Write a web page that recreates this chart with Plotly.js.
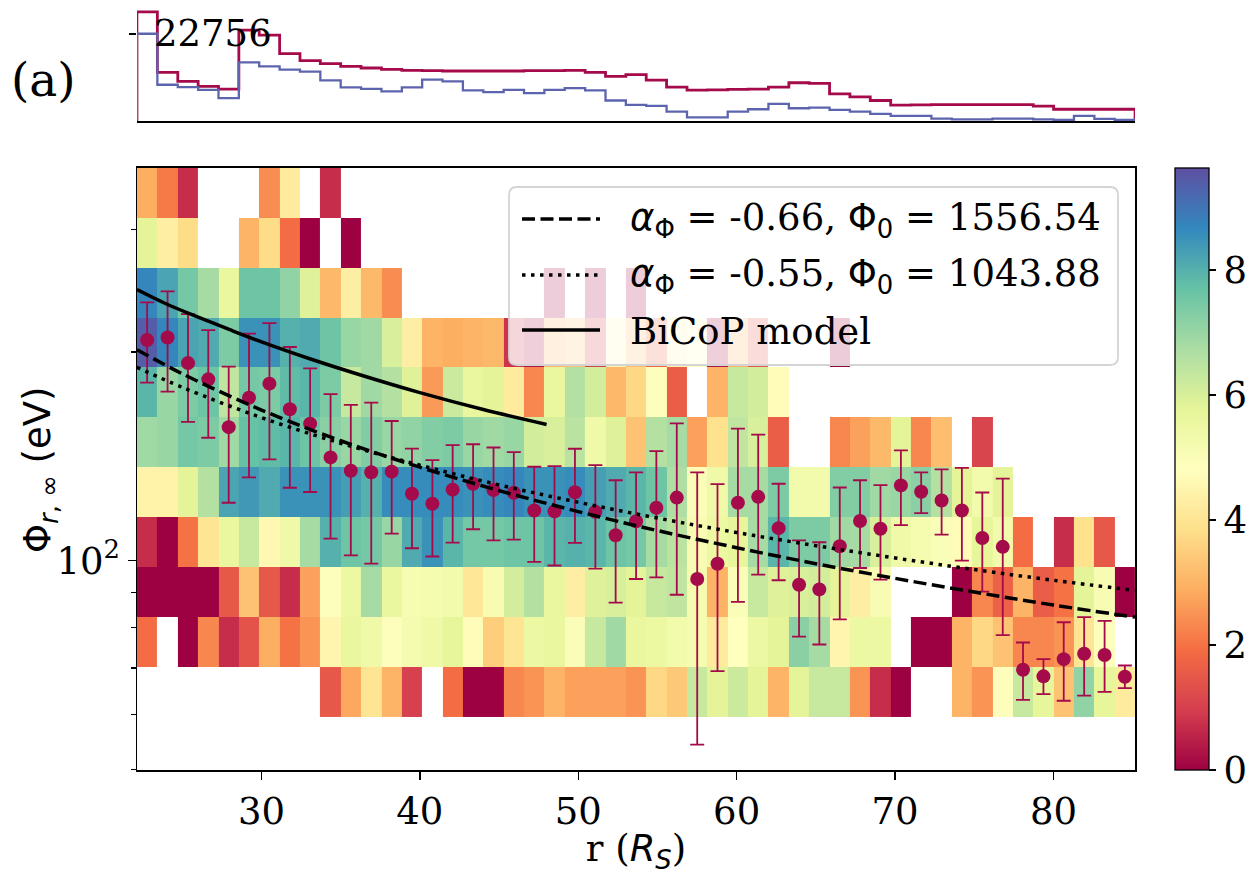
<!DOCTYPE html>
<html><head><meta charset="utf-8">
<script src="https://cdn.plot.ly/plotly-3.0.1.min.js"></script>
<style>body{margin:0;background:#fff}#chart{width:1255px;height:875px}</style>
</head><body><div id="chart"></div>
<script>
const _ = null;
// radial bin centres (R_S)
const rCenters = [22.78,24.07,25.36,26.64,27.93,29.21,30.50,31.79,33.07,34.36,
 35.64,36.93,38.22,39.50,40.79,42.07,43.36,44.65,45.93,47.22,
 48.50,49.79,51.08,52.36,53.65,54.93,56.22,57.51,58.79,60.08,
 61.36,62.65,63.94,65.22,66.51,67.79,69.08,70.37,71.65,72.94,
 74.22,75.51,76.80,78.08,79.37,80.65,81.94,83.23,84.51];
// Phi bin edges (eV), bottom to top
const phiEdges = [59.6,70.33,83.0,97.95,115.6,136.4,161.0,190.0,224.2,264.6,312.2,368.4];
// colour values per Phi row (bottom to top), one value per r bin
const zR1  = [_,_,_,_,_,_,_,_,_,1.5, 2.8,4.0,3.0,1.0,_,1.9,0,0,2.3,2.5, 3.0,2.7,2.7,2.7,2.5,3.7,3.4,6.3,5.8,6.2, 5.8,3.0,5.8,6.3,6.3,2.5,0.7,0,_,_, 3.0,2.5,4.9,6.3,5.7,3.3,7.1,5.7,4.2];
const zR2  = [1.9,_,0,2.3,0.7,1.4,2.9,2.0,2.5,4.5, 5.6,5.4,4.9,5.2,5.4,5.7,4.7,3.5,4.0,5.5, 5.6,5.0,6.3,6.9,5.6,5.5,5.3,5.2,4.2,4.8, 5.5,5.8,7.2,6.8,4.5,5.5,5.5,_,0,0, 3.0,3.7,3.3,2.3,2.3,2.5,4.0,4.9,_];
const zR3  = [0,0,0,0,1.5,3.3,1.5,0.7,2.7,4.9, 5.5,6.8,5.6,5.1,5.2,5.3,4.1,5.1,6.1,6.6, 5.6,4.3,5.9,6.0,5.8,6.3,6.4,5.2,3.0,5.0, 6.3,5.9,6.0,6.1,5.8,4.3,5.1,_,_,_, 0,2.3,1.7,3.0,1.6,2.0,5.8,5.1,0];
const zR4  = [0.7,0,2.0,4.0,5.6,6.3,4.6,5.4,6.8,8.0, 7.6,7.5,7.0,8.1,8.5,7.9,7.5,7.5,7.6,7.6, 7.9,8.0,7.9,7.6,7.5,6.8,6.5,5.1,5.5,5.7, 6.8,7.9,7.4,7.4,6.9,6.8,6.0,5.4,5.2,5.0, 4.7,5.7,5.3,1.9,_,0.7,3.9,1.5,_];
const zR5  = [4.4,4.4,5.8,6.6,8.2,8.4,8.1,8.5,8.5,8.5, 8.3,8.0,8.6,8.6,8.6,8.6,8.5,8.6,8.7,8.5, 8.5,8.6,8.3,8.1,7.9,7.6,6.7,5.0,5.4,6.8, 6.8,7.4,5.3,5.3,7.3,7.3,6.9,7.0,7.2,6.6, 5.8,5.3,5.8,_,_,_,_,_,_];
const zR6  = [6.9,7.0,7.5,7.4,6.9,7.7,7.8,7.9,7.6,7.2, 7.0,7.3,7.0,7.1,7.3,7.4,7.0,6.9,7.0,6.1, 6.0,6.5,5.4,5.9,3.3,6.6,6.8,2.7,3.9,6.4, 6.0,1.6,_,_,2.3,2.7,3.1,5.8,2.3,3.2, _,1.1,_,_,_,_,_,_,_];
const zR7  = [7.9,7.0,7.4,7.6,6.4,7.5,7.4,7.8,7.9,7.4, 6.3,6.9,6.6,5.9,2.6,6.2,5.6,5.8,4.2,2.3, 5.6,6.6,6.1,3.1,3.7,4.9,1.6,_,3.0,6.3, 6.1,4.7,_,_,_,_,_,_,_,_, _,_,_,_,_,_,_,_,_];
const zR8  = [9.4,8.7,8.2,8.1,7.4,8.5,8.5,8.0,8.1,7.6, 7.0,6.9,6.0,4.3,3.0,2.9,3.0,3.1,0.8,0.3, 3.0,3.3,1.0,4.6,3.2,1.8,4.5,4.8,0.3,3.0, 1.5,_,_,_,0,_,_,_,_,_, _,_,_,_,_,_,_,_,_];
const zR9  = [8.7,8.2,7.5,6.8,5.6,7.6,7.6,7.1,5.9,3.1, 4.3,3.1,2.4,_,_,_,_,_,_,_, 0.1,_,0.1,_,0.1,_,_,_,_,_, _,_,_,_,_,_,_,_,_,_, _,_,_,_,_,_,_,_,_];
const zR10 = [5.8,4.3,3.8,_,_,3.0,3.8,1.9,0,_, 0,_,_,_,_,_,_,_,_,_, _,_,_,_,_,_,_,_,_,_, _,_,_,_,_,_,_,_,_,_, _,_,_,_,_,_,_,_,_];
const zR11 = [2.9,2.1,0.7,_,_,_,2.4,4.2,_,0.7, _,_,_,_,_,_,_,_,_,_, _,_,_,_,_,_,_,_,_,_, _,_,_,_,_,_,_,_,_,_, _,_,_,_,_,_,_,_,_];
// binned mean Phi with error-bar limits
const phiMean = [208.1,209.8,192.7,182.6,155.8,171.8,180.0,165.3,157.6,140.9,
 134.8,134.1,134.4,124.9,120.8,126.6,129.1,126.4,125.3,118.1,
 117.8,125.5,117.6,108.8,114.0,119.2,123.3,94.1,99.0,121.2,
 123.6,111.4,92.3,90.9,104.9,114.1,111.2,128.4,125.7,122.1,
 118.1,107.8,104.7,69.6,68.1,72.1,73.4,73.1,68.0];
const phiUpper = [235.8,244.5,226.8,215.0,190.5,212.6,220.0,203.3,189.4,173.8,
 167.7,169.0,159.0,145.1,139.6,146.8,147.2,145.6,143.4,136.6,
 136.9,145.0,137.3,130.6,134.1,143.9,157.8,134.1,128.9,155.0,
 152.0,129.1,107.0,106.3,127.5,130.6,128.5,144.2,134.1,135.4,
 136.1,125.4,131.3,76.2,72.1,81.5,82.9,81.9,70.6];
const phiLower = [180.6,175.3,158.5,150.4,121.2,131.9,140.0,127.4,125.6,107.6,
 101.8,99.0,109.4,104.2,101.4,106.2,111.0,107.0,107.2,99.6,
 98.4,106.1,97.4,87.0,94.1,94.6,89.3,54.3,69.3,87.2,
 95.5,93.7,77.7,75.7,82.3,97.6,93.9,112.5,117.1,109.0,
 100.0,90.2,78.1,63.0,64.2,62.8,63.9,64.7,65.5];
// power-law fit curves and BiCoP model
const fitR    = [22.14,25,30,35,40,45,50,55,60,65,70,75,80,85.15];
const fitDash = [201.5,186.0,164.9,148.9,136.4,126.2,117.7,110.5,104.4,99.0,94.3,90.1,86.3,82.9];
const fitDot  = [190.0,177.8,160.8,147.7,137.3,128.6,121.4,115.2,109.8,105.1,100.9,97.1,93.7,90.6];
const bicopR   = [22.14,24,26,28,30,33,36,40,44,48];
const bicopPhi = [246,234.5,224.5,215.3,206.8,195.7,186.0,174.7,165.2,157.2];
// top panel counts per r bin
const countsAll = [28445,12690,10328,9015,8315,23719,22406,17592,15754,14966,
 14266,13829,13479,13216,13129,13041,13041,13041,13041,13129,
 13129,13216,12691,11640,12078,10677,8840,8052,8140,8227,
 8315,8840,9977,9802,7089,6301,5339,4113,4201,4288,
 4288,4288,4288,4288,3851,3063,3063,3063,3063];
const countsSel = [22756,9452,8840,8140,5952,15316,14266,13391,12866,10590,
 8752,8402,7702,8752,10765,10328,7965,7527,8140,7265,
 8140,8577,7965,5339,4201,3938,2450,963,963,2450,
 3063,4464,3326,3501,2888,2450,1838,1313,1313,613,
 438,438,613,613,438,263,1313,525,263];
const topTick = 22756;
const legendLabels = [
  "<span style='font-family:DejaVu Sans'><i>α</i><sub>Φ</sub></span> = -0.66, <span style='font-family:DejaVu Sans'>Φ<sub>0</sub></span> = 1556.54",
  "<span style='font-family:DejaVu Sans'><i>α</i><sub>Φ</sub></span> = -0.55, <span style='font-family:DejaVu Sans'>Φ<sub>0</sub></span> = 1043.88",
  "BiCoP model"];

const spectral = ['#9e0142','#d53e4f','#f46d43','#fdae61','#fee08b','#ffffbf','#e6f598','#abdda4','#66c2a5','#3288bd','#5e4fa2'];
const cs = spectral.map((c,i)=>[i/(spectral.length-1), c]);
const RED = '#a50a4a', BLUE = '#5d64ae';

function stepLine(counts){
  const w = rCenters[1]-rCenters[0];
  const e0 = rCenters[0]-w/2, eN = rCenters[rCenters.length-1]+w/2;
  const xs = [e0, e0].concat(rCenters, [eN, eN]);
  const ys = [0, counts[0]].concat(counts, [counts[counts.length-1], 0]);
  return {xs, ys};
}
const sA = stepLine(countsAll), sS = stepLine(countsSel);

const traces = [
 {type:'heatmap', x:rCenters, y:phiEdges, z:[zR1,zR2,zR3,zR4,zR5,zR6,zR7,zR8,zR9,zR10,zR11],
  colorscale:cs, zmin:0, zmax:9.63, xaxis:'x', yaxis:'y', hoverinfo:'skip',
  colorbar:{x:1.0401, xanchor:'left', xpad:0, y:0, yanchor:'bottom', ypad:0, len:0.788, lenmode:'fraction',
    thickness:34, outlinewidth:1.3, outlinecolor:'black', tickvals:[0,2,4,6,8], ticks:'outside', ticklen:7,
    tickwidth:1.3, tickcolor:'black', tickfont:{family:'DejaVu Serif', size:37, color:'black'}}},
 {type:'scatter', mode:'markers', x:rCenters, y:phiMean, xaxis:'x', yaxis:'y',
  marker:{color:RED, size:14},
  error_y:{type:'data', symmetric:false, array:phiUpper.map((u,i)=>u-phiMean[i]),
    arrayminus:phiMean.map((m,i)=>m-phiLower[i]), color:RED, thickness:1.8, width:7}},
 {type:'scatter', mode:'lines', x:fitR, y:fitDash, xaxis:'x', yaxis:'y', line:{color:'black', width:3.5, dash:'13px,5.5px', shape:'spline'}},
 {type:'scatter', mode:'lines', x:fitR, y:fitDot, xaxis:'x', yaxis:'y', line:{color:'black', width:3.5, dash:'3.5px,5.5px', shape:'spline'}},
 {type:'scatter', mode:'lines', x:bicopR, y:bicopPhi, xaxis:'x', yaxis:'y', line:{color:'black', width:3.5, shape:'spline'}},
 {type:'scatter', mode:'lines', x:sA.xs, y:sA.ys, xaxis:'x2', yaxis:'y2', line:{color:RED, width:2.8, shape:'hvh'}},
 {type:'scatter', mode:'lines', x:sS.xs, y:sS.ys, xaxis:'x2', yaxis:'y2', line:{color:BLUE, width:2.3, shape:'hvh'}}
];

// legend box geometry in paper units
const PX = v => (v-137)/998, PY = v => (770-v)/764;
const lx0=PX(509), lx1=PX(1118), ly0=PY(365), ly1=PY(187), rx=8/998, ry=8/764;
const boxPath = `M${lx0+rx},${ly1} L${lx1-rx},${ly1} Q${lx1},${ly1} ${lx1},${ly1-ry} L${lx1},${ly0+ry} Q${lx1},${ly0} ${lx1-rx},${ly0} L${lx0+rx},${ly0} Q${lx0},${ly0} ${lx0},${ly0+ry} L${lx0},${ly1-ry} Q${lx0},${ly1} ${lx0+rx},${ly1} Z`;
const rowsY = [219, 275, 330];
const dashes = ['13px,5.5px','3.5px,5.5px','solid'];
const shapes = [{type:'path', path:boxPath, xref:'paper', yref:'paper', fillcolor:'rgba(255,255,255,0.8)', line:{color:'#d4d4d4', width:1.8}, layer:'above'}];
rowsY.forEach((y,k)=>shapes.push({type:'line', xref:'paper', yref:'paper', x0:PX(522), x1:PX(600), y0:PY(y), y1:PY(y), line:{color:'black', width:3.5, dash:dashes[k]}, layer:'above'}));
const annotations = rowsY.map((y,k)=>({xref:'paper', yref:'paper', x:PX(628), y:PY(y+1), xanchor:'left', yanchor:'middle', showarrow:false, text:legendLabels[k], font:{family:'DejaVu Serif', size:37, color:'black'}}));
annotations.push({xref:'paper', yref:'paper', x:PX(43), y:PY(79), xanchor:'center', yanchor:'middle', showarrow:false, text:'(a)', font:{family:'DejaVu Serif', size:47, color:'black'}});
annotations.push({xref:'paper', yref:'y2', x:PX(152), y:topTick, xanchor:'left', yanchor:'middle', showarrow:false, text:String(topTick), font:{family:'DejaVu Serif', size:37, color:'black'}});
annotations.push({xref:'paper', yref:'paper', x:PX(40), y:PY(470), xanchor:'center', yanchor:'middle', textangle:-90, showarrow:false, text:'Φ<sub><i>r</i>, ∞</sub> (eV)', font:{family:'DejaVu Sans', size:37, color:'black'}});

const layout = {
 width:1255, height:875, margin:{l:137, r:120, t:6, b:105},
 paper_bgcolor:'white', plot_bgcolor:'rgba(0,0,0,0)', showlegend:false,
 font:{family:'DejaVu Serif', size:37, color:'black'},
 xaxis:{domain:[0,1], range:[22.14,85.15], anchor:'y', showline:true, mirror:true, linecolor:'black', linewidth:1.5,
   ticks:'outside', ticklen:8, tickwidth:1.5, tickcolor:'black', tickvals:[30,40,50,60,70,80], showgrid:false, zeroline:false,
   tickfont:{size:37}, title:{text:'r (<span style="font-family:DejaVu Sans"><i>R</i><sub><i>S</i></sub></span>)', font:{size:37}, standoff:8}},
 yaxis:{domain:[0,0.788], type:'log', range:[Math.log10(49.9), Math.log10(368.4)], anchor:'x', showline:true, mirror:true,
   linecolor:'black', linewidth:1.5, ticks:'outside', ticklen:8, tickwidth:1.5, tickcolor:'black',
   tickmode:'array', tickvals:[100], ticktext:['10<sup>2</sup>'], showgrid:false, zeroline:false, tickfont:{size:37},
   minor:{tickmode:'array', tickvals:[50,60,70,80,90,200,300], ticks:'outside', ticklen:5, tickwidth:1.2, tickcolor:'black', showgrid:false}},
 xaxis2:{domain:[0,1], range:[22.14,85.15], anchor:'y2', showline:true, linecolor:'black', linewidth:2.5,
   showticklabels:false, ticks:'', showgrid:false, zeroline:false},
 yaxis2:{domain:[0.8495,1], range:[0,30000], anchor:'x2', showline:false, showgrid:false, zeroline:false,
   tickmode:'array', tickvals:[topTick], ticks:'outside', ticklen:7, tickwidth:1.5, tickcolor:'black',
   showticklabels:false},
 shapes, annotations
};
Plotly.newPlot('chart', traces, layout, {displayModeBar:false, staticPlot:true});
</script></body></html>
